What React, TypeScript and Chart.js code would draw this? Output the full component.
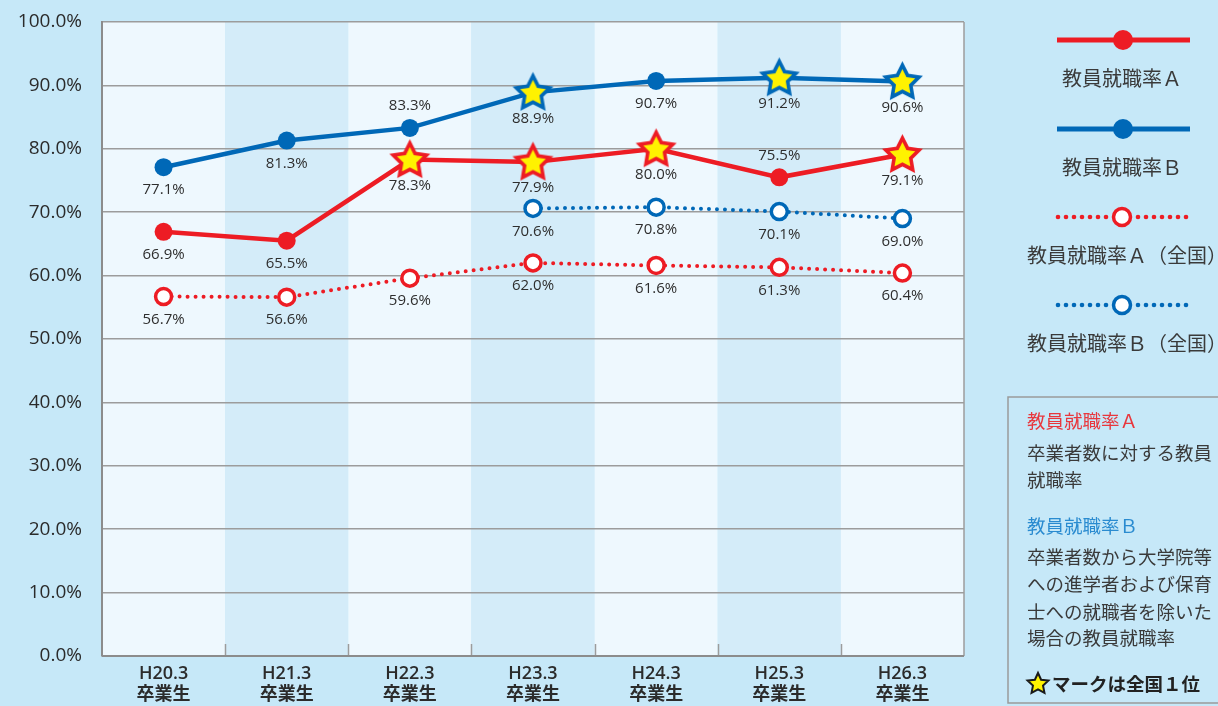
import React, { useEffect, useRef } from 'react';
import { Chart, registerables } from 'chart.js';
Chart.register(...registerables);

const categories: string[][] = [
  ['H20.3', '卒業生'], ['H21.3', '卒業生'], ['H22.3', '卒業生'], ['H23.3', '卒業生'],
  ['H24.3', '卒業生'], ['H25.3', '卒業生'], ['H26.3', '卒業生'],
];
const rateA = [66.9, 65.5, 78.3, 77.9, 80.0, 75.5, 79.1];
const rateB = [77.1, 81.3, 83.3, 88.9, 90.7, 91.2, 90.6];
const rateANational = [56.7, 56.6, 59.6, 62.0, 61.6, 61.3, 60.4];
const rateBNational: (number | null)[] = [null, null, null, 70.6, 70.8, 70.1, 69.0];
const firstPlaceA = [false, false, true, true, true, false, true];
const firstPlaceB = [false, false, false, true, false, true, true];
const seriesNames = ['教員就職率Ａ', '教員就職率Ｂ', '教員就職率Ａ（全国）', '教員就職率Ｂ（全国）'];

const RED = '#ed1c24';
const BLUE = '#0068b7';
const BG = '#c6e8f8';
const COL_LIGHT = '#eef8fe';
const COL_DARK = '#d4ecf9';
const GRID = '#9c9c9c';
const TEXT = '#2b2b2b';

function makeStar(stroke: string, outer = 17.5, inner = 8.8, lw = 3.6): HTMLCanvasElement {
  const size = Math.ceil((outer + lw) * 2) + 2;
  const c = document.createElement('canvas');
  c.width = size; c.height = size;
  const g = c.getContext('2d')!;
  const cx = size / 2, cy = size / 2 + 1;
  g.beginPath();
  for (let i = 0; i < 10; i++) {
    const r = i % 2 === 0 ? outer : inner;
    const a = -Math.PI / 2 + (i * Math.PI) / 5;
    const x = cx + r * Math.cos(a), y = cy + r * Math.sin(a);
    if (i === 0) g.moveTo(x, y); else g.lineTo(x, y);
  }
  g.closePath();
  g.fillStyle = '#fff200';
  g.fill();
  g.lineWidth = lw;
  g.lineJoin = 'miter';
  g.strokeStyle = stroke;
  g.stroke();
  return c;
}

const labelAbove: Record<number, number[]> = { 1: [2], 0: [5] };

export default function App() {
  const ref = useRef<HTMLCanvasElement>(null);
  useEffect(() => {
    const canvas = ref.current!;
    const starRed = makeStar(RED);
    const starBlue = makeStar(BLUE);

    const bgPlugin = {
      id: 'bgCols',
      beforeDraw(chart: any) {
        const { ctx, chartArea } = chart;
        const xs = chart.scales.x;
        ctx.save();
        const n = categories.length;
        const w = (chartArea.right - chartArea.left) / n;
        for (let i = 0; i < n; i++) {
          const cx = xs.getPixelForValue(i);
          ctx.fillStyle = i % 2 === 0 ? COL_LIGHT : COL_DARK;
          ctx.fillRect(cx - w / 2, chartArea.top, w, chartArea.bottom - chartArea.top);
        }
        ctx.restore();
      },
      beforeDatasetsDraw(chart: any) {
        const { ctx, chartArea } = chart;
        const xs = chart.scales.x;
        const n = categories.length;
        const w = (chartArea.right - chartArea.left) / n;
        ctx.save();
        ctx.strokeStyle = GRID;
        ctx.lineWidth = 1.5;
        for (let i = 0; i < n - 1; i++) {
          const x = Math.round(xs.getPixelForValue(i) + w / 2) + 0.5;
          ctx.beginPath();
          ctx.moveTo(x, chartArea.bottom);
          ctx.lineTo(x, chartArea.bottom - 12);
          ctx.stroke();
        }
        ctx.beginPath();
        ctx.moveTo(chartArea.right, chartArea.top);
        ctx.lineTo(chartArea.right, chartArea.bottom);
        ctx.stroke();
        ctx.strokeStyle = '#8c8c8c';
        ctx.lineWidth = 2;
        ctx.beginPath();
        ctx.moveTo(chartArea.left, chartArea.bottom);
        ctx.lineTo(chartArea.right, chartArea.bottom);
        ctx.stroke();
        ctx.restore();
      },
      afterDatasetsDraw(chart: any) {
        const { ctx } = chart;
        ctx.save();
        ctx.font = '15px "Open Sans", "Noto Sans", sans-serif';
        ctx.fillStyle = '#2e2e2e';
        ctx.textAlign = 'center';
        ctx.textBaseline = 'middle';
        chart.data.datasets.forEach((ds: any, di: number) => {
          const meta = chart.getDatasetMeta(di);
          const stars = di === 0 ? firstPlaceA : di === 1 ? firstPlaceB : null;
          ds.data.forEach((v: number | null, i: number) => {
            if (v === null || v === undefined) return;
            const el = meta.data[i];
            const above = (labelAbove[di] || []).includes(i);
            const isStar = stars ? stars[i] : false;
            const off = above ? -22 : isStar ? 26 : 23;
            ctx.fillText(v.toFixed(1) + '%', el.x, el.y + off);
          });
        });
        ctx.restore();
      },
    };

    const chart = new Chart(canvas, {
      type: 'line',
      data: {
        labels: categories,
        datasets: [
          {
            label: seriesNames[0], data: rateA, borderColor: RED, backgroundColor: RED,
            borderWidth: 4.5, tension: 0,
            pointStyle: (c: any) => (firstPlaceA[c.dataIndex] ? starRed : 'circle'),
            pointRadius: 9, pointBorderWidth: 0, pointBackgroundColor: RED,
          },
          {
            label: seriesNames[1], data: rateB, borderColor: BLUE, backgroundColor: BLUE,
            borderWidth: 4.5, tension: 0,
            pointStyle: (c: any) => (firstPlaceB[c.dataIndex] ? starBlue : 'circle'),
            pointRadius: 9, pointBorderWidth: 0, pointBackgroundColor: BLUE,
          },
          {
            label: seriesNames[2], data: rateANational, borderColor: RED, backgroundColor: '#ffffff',
            borderWidth: 4, borderDash: [0, 8], borderCapStyle: 'round', tension: 0,
            pointStyle: 'circle', pointRadius: 8, pointBorderWidth: 3.5,
            pointBorderColor: RED, pointBackgroundColor: '#ffffff',
          },
          {
            label: seriesNames[3], data: rateBNational, borderColor: BLUE, backgroundColor: '#ffffff',
            borderWidth: 4, borderDash: [0, 8], borderCapStyle: 'round', tension: 0,
            pointStyle: 'circle', pointRadius: 8, pointBorderWidth: 3.5,
            pointBorderColor: BLUE, pointBackgroundColor: '#ffffff',
          },
        ] as any,
      },
      options: {
        responsive: false,
        animation: false,
        events: [],
        layout: { padding: { left: 0, right: 254, top: 22, bottom: 0 } },
        plugins: { legend: { display: false }, tooltip: { enabled: false } },
        scales: {
          x: {
            offset: true,
            grid: { display: false },
            border: { display: false },
            ticks: {
              color: TEXT, padding: 0, maxRotation: 0, autoSkip: false,
              font: { family: '"Open Sans", "Noto Sans CJK JP", sans-serif', size: 18, weight: '600', lineHeight: 1.15 },
            },
            afterFit: (s: any) => { s.height = 50; },
          },
          y: {
            min: 0, max: 100,
            ticks: {
              stepSize: 10, padding: 20, color: TEXT,
              font: { family: '"Open Sans", "Noto Sans", sans-serif', size: 19, weight: '500' },
              callback: (v: any) => Number(v).toFixed(1) + '%',
            },
            grid: { color: GRID, lineWidth: 1.5, drawTicks: false },
            border: { display: true, color: '#8c8c8c', width: 2 },
            afterFit: (s: any) => { s.width = 102; s.paddingTop = 12; s.paddingBottom = 12; },
          },
        },
      } as any,
      plugins: [bgPlugin],
    });
    return () => chart.destroy();
  }, []);

  const legendText: React.CSSProperties = {
    position: 'absolute', fontFamily: '"Noto Sans CJK JP", sans-serif', fontSize: 20,
    lineHeight: '24px', color: '#3a3a3a', whiteSpace: 'nowrap',
  };
  const noteText: React.CSSProperties = {
    position: 'absolute', left: 1027, fontFamily: '"Noto Sans CJK JP", sans-serif', fontSize: 18.5,
    lineHeight: '24px', color: '#3a3a3a', whiteSpace: 'nowrap',
  };
  const dots = (y: number, color: string) => {
    const arr: React.ReactElement[] = [];
    for (let x = 1058; x <= 1190; x += 8) {
      if (Math.abs(x - 1122) < 13) continue;
      arr.push(<circle key={x} cx={x} cy={y} r={2.3} fill={color} />);
    }
    return arr;
  };

  return (
    <div style={{ position: 'absolute', left: 0, top: 0, width: 1218, height: 706, background: BG, overflow: 'hidden' }}>
      <canvas ref={ref} width={1218} height={706} style={{ position: 'absolute', left: 0, top: 0 }} />
      <svg width={1218} height={706} style={{ position: 'absolute', left: 0, top: 0, pointerEvents: 'none' }}>
        <line x1={1057} y1={40} x2={1190} y2={40} stroke={RED} strokeWidth={5} />
        <circle cx={1123} cy={40} r={10} fill={RED} />
        <line x1={1057} y1={129} x2={1190} y2={129} stroke={BLUE} strokeWidth={5} />
        <circle cx={1123} cy={129} r={10} fill={BLUE} />
        {dots(217, RED)}
        <circle cx={1122} cy={217} r={8.5} fill="#fff" stroke={RED} strokeWidth={3.5} />
        {dots(305, BLUE)}
        <circle cx={1122} cy={305} r={8.5} fill="#fff" stroke={BLUE} strokeWidth={3.5} />
        <rect x={1008} y={397} width={240} height={306} fill="none" stroke="#9a9a9a" strokeWidth={1.5} />
        <polygon
          points={Array.from({ length: 10 }, (_, i) => {
            const r = i % 2 === 0 ? 11 : 5.3;
            const a = -Math.PI / 2 + (i * Math.PI) / 5;
            return `${1038 + r * Math.cos(a)},${684 + r * Math.sin(a)}`;
          }).join(' ')}
          fill="#fff200" stroke="#1a1a1a" strokeWidth={2} strokeLinejoin="miter"
        />
      </svg>
      <div style={{ ...legendText, left: 1022, width: 200, textAlign: 'center', top: 66 }}>{seriesNames[0]}</div>
      <div style={{ ...legendText, left: 1022, width: 200, textAlign: 'center', top: 155 }}>{seriesNames[1]}</div>
      <div style={{ ...legendText, left: 1027, top: 243 }}>{seriesNames[2]}</div>
      <div style={{ ...legendText, left: 1027, top: 331 }}>{seriesNames[3]}</div>

      <div style={{ ...noteText, top: 408, color: '#e8373d' }}>教員就職率Ａ</div>
      <div style={{ ...noteText, top: 440 }}>卒業者数に対する教員</div>
      <div style={{ ...noteText, top: 467 }}>就職率</div>
      <div style={{ ...noteText, top: 513, color: '#2a8bd0' }}>教員就職率Ｂ</div>
      <div style={{ ...noteText, top: 544 }}>卒業者数から大学院等</div>
      <div style={{ ...noteText, top: 571 }}>への進学者および保育</div>
      <div style={{ ...noteText, top: 599 }}>士への就職者を除いた</div>
      <div style={{ ...noteText, top: 625 }}>場合の教員就職率</div>
      <div style={{ ...noteText, left: 1052, top: 671, fontWeight: 700, color: '#222' }}>マークは全国１位</div>
    </div>
  );
}
